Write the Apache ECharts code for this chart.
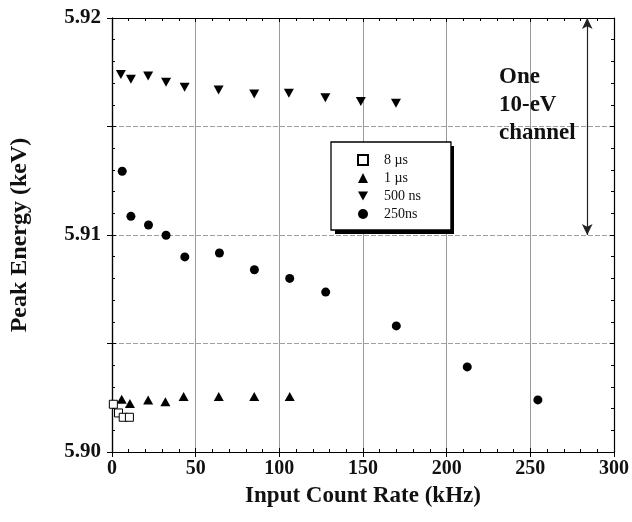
<!DOCTYPE html>
<html>
<head>
<meta charset="utf-8">
<script src="https://cdn.jsdelivr.net/npm/echarts@6/dist/echarts.min.js"></script>
<style>html,body{margin:0;padding:0;background:#fff}#c{width:632px;height:522px}</style>
</head>
<body>
<div id="c"></div>
<script>
// ---- data ----
const seriesNames = ['8 \u00b5s', '1 \u00b5s', '500 ns', '250ns'];
const rate8us = [0.8, 3.9, 6.7, 10.4];
const energy8us = [5.9022, 5.9018, 5.9016, 5.9016];
const rate1us = [5.8, 10.7, 21.6, 31.9, 42.8, 63.8, 85.0, 106.2];
const energy1us = [5.90243, 5.90224, 5.9024, 5.90231, 5.90256, 5.90256, 5.90256, 5.90256];
const rate500ns = [5.3, 11.3, 21.6, 32.3, 43.4, 63.7, 85.0, 105.7, 127.5, 148.7, 169.7];
const energy500ns = [5.9174, 5.91718, 5.91733, 5.91704, 5.91681, 5.91668, 5.9165, 5.91653, 5.91633, 5.91615, 5.91607];
const rate250ns = [6.1, 11.3, 21.8, 32.3, 43.5, 64.2, 85.1, 106.2, 127.7, 169.9, 212.3, 254.5];
const energy250ns = [5.91294, 5.91086, 5.91046, 5.90999, 5.90899, 5.90917, 5.9084, 5.908, 5.90737, 5.90581, 5.90392, 5.9024];
const xTicks = [0, 50, 100, 150, 200, 250, 300];
const yTickLabels = ['5.90', '5.91', '5.92'];
const channelText = ['One', '10-eV', 'channel'];
const channelArrow = { rate: 284, from: 5.92, to: 5.91 };

// ---- chart ----
const FONT = 'Liberation Serif';
const zip = (a, b) => a.map((v, i) => [v, b[i]]);
const chart = echarts.init(document.getElementById('c'), null, { renderer: 'canvas' });

const xMin = xTicks[0], xMax = xTicks[xTicks.length - 1], xInt = xTicks[1] - xTicks[0];
const yMin = 5.90, yMax = 5.92, yInt = 0.005;
const DOWN_TRI = 'path://M0,0 L10,0 L5,9 Z';

function frameX(position) {
  return {
    type: 'value', position, min: xMin, max: xMax, interval: xInt,
    axisLine: { show: true, onZero: false, lineStyle: { color: '#000', width: 1.2 } },
    axisTick: { show: true, inside: true, length: 4, lineStyle: { color: '#000' } },
    minorTick: { show: true, splitNumber: 5, length: 3, lineStyle: { color: '#000' } },
    axisLabel: { show: false }, splitLine: { show: false }
  };
}
function frameY(position) {
  return {
    type: 'value', position, min: yMin, max: yMax, interval: yInt,
    axisLine: { show: true, onZero: false, lineStyle: { color: '#000', width: 1.2 } },
    axisTick: { show: true, inside: true, length: 4, lineStyle: { color: '#000' } },
    minorTick: { show: true, splitNumber: 5, length: 3, lineStyle: { color: '#000' } },
    axisLabel: { show: false }, splitLine: { show: false }
  };
}

const option = {
  backgroundColor: '#fff',
  animation: false,
  grid: { left: 112, right: 15, top: 18, bottom: 70, containLabel: false },
  xAxis: [
    {
      type: 'value', position: 'bottom', min: xMin, max: xMax, interval: xInt,
      axisLine: { show: true, onZero: false, lineStyle: { color: '#000', width: 1.2 } },
      axisTick: { show: true, inside: false, length: 5, lineStyle: { color: '#000' } },
      minorTick: { show: false },
      axisLabel: { fontFamily: FONT, fontWeight: 'bold', fontSize: 20, color: '#111', margin: 7 },
      splitLine: { show: true, lineStyle: { color: '#9a9a9a', width: 1 } },
      name: 'Input Count Rate (kHz)', nameLocation: 'middle', nameGap: 33,
      nameTextStyle: { fontFamily: FONT, fontWeight: 'bold', fontSize: 23, color: '#111' }
    },
    frameX('bottom'),
    frameX('top')
  ],
  yAxis: [
    {
      type: 'value', position: 'left', min: yMin, max: yMax, interval: yInt,
      axisLine: { show: true, onZero: false, lineStyle: { color: '#000', width: 1.2 } },
      axisTick: { show: true, inside: false, length: 5, lineStyle: { color: '#000' } },
      minorTick: { show: false },
      axisLabel: {
        fontFamily: FONT, fontWeight: 'bold', fontSize: 21, color: '#111', margin: 11,
        formatter: function (v) {
          const hit = yTickLabels.find(t => Math.abs(parseFloat(t) - v) < 1e-7);
          return hit || '';
        }
      },
      splitLine: { show: true, lineStyle: { color: '#a0a0a0', width: 1, type: [5, 2] } },
      name: 'Peak Energy (keV)', nameLocation: 'middle', nameGap: 80,
      nameTextStyle: { fontFamily: FONT, fontWeight: 'bold', fontSize: 24, color: '#111' }
    },
    frameY('left'),
    frameY('right')
  ],
  legend: {
    orient: 'vertical', left: 331, top: 142, z: 6,
    data: seriesNames,
    itemWidth: 10, itemHeight: 10, itemGap: 4,
    padding: [11, 30, 9, 26],
    backgroundColor: '#fff', borderColor: '#000', borderWidth: 1.3,
    selectedMode: false,
    textStyle: { fontFamily: FONT, fontSize: 14, color: '#111', padding: [0, 0, 0, 11] }
  },
  graphic: [
    {
      // drop shadow of the legend box
      type: 'rect', z: 5, silent: true,
      shape: { x: 335, y: 146, width: 119, height: 88 },
      style: { fill: '#000' }
    },
    {
      type: 'text', left: 499, top: 63, z: 10,
      style: {
        text: channelText.join('\n'), fontFamily: FONT, fontWeight: 'bold', fontSize: 23,
        lineHeight: 28, fill: '#111'
      }
    }
  ],
  series: [
    {
      name: seriesNames[0], type: 'scatter', data: zip(rate8us, energy8us),
      symbol: 'rect', symbolSize: 8,
      itemStyle: { color: '#fff', borderColor: '#000', borderWidth: 1, opacity: 1 }, z: 3
    },
    {
      name: seriesNames[1], type: 'scatter', data: zip(rate1us, energy1us),
      symbol: 'triangle', symbolSize: [10, 9], itemStyle: { color: '#000', opacity: 1 }
    },
    {
      name: seriesNames[2], type: 'scatter', data: zip(rate500ns, energy500ns),
      symbol: DOWN_TRI, symbolSize: [10, 9], itemStyle: { color: '#000', opacity: 1 }
    },
    {
      name: seriesNames[3], type: 'scatter', data: zip(rate250ns, energy250ns),
      symbol: 'circle', symbolSize: 9, itemStyle: { color: '#000', opacity: 1 },
      markLine: {
        silent: true, animation: false,
        symbol: ['arrow', 'arrow'], symbolSize: [8, 11],
        label: { show: false },
        lineStyle: { color: '#222', width: 1.2, type: 'solid' },
        data: [[{ coord: [channelArrow.rate, channelArrow.from] }, { coord: [channelArrow.rate, channelArrow.to] }]]
      }
    }
  ]
};
chart.setOption(option);
</script>
</body>
</html>
